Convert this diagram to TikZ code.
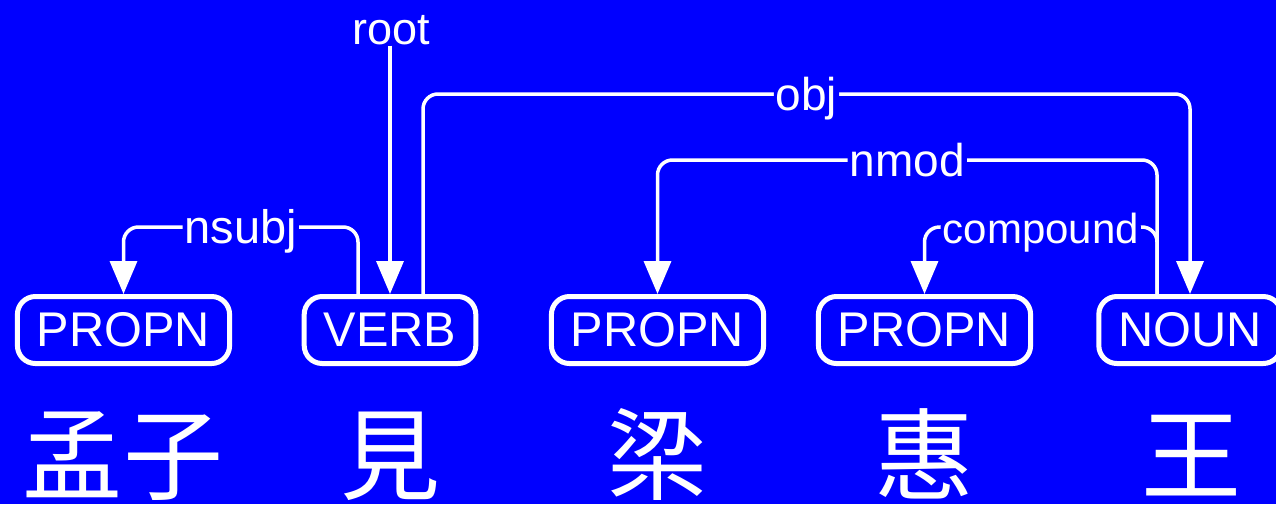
\documentclass[tikz,border=0pt]{standalone}
\usepackage{fontspec}
\setmainfont{Liberation Sans}
\newfontfamily\cjk{Noto Sans CJK TC}
\usetikzlibrary{arrows.meta,calc}
\definecolor{bg}{RGB}{0,0,255}
\begin{document}
\begin{tikzpicture}[x=1pt,y=-1pt,
  posbox/.style={draw=white, line width=5pt, rounded corners=18pt, text=white,
    font=\fontsize{48.7}{58}\selectfont, inner xsep=19.5pt, inner ysep=0pt, minimum height=67pt},
  lab/.style={text=white, fill=bg, font=\fontsize{#1}{50}\selectfont, inner xsep=2pt, inner ysep=1pt},
  onlab/.style={lab=#1, anchor=base, yshift=-16pt},
  word/.style={text=white, font=\cjk\fontsize{100}{110}\selectfont, anchor=base},
  depline/.style={draw=white, line width=3.5pt, rounded corners=15pt},
  deparrow/.style={depline, -{Triangle[width=27pt,length=33pt]}}]
\fill[bg] (0,0) rectangle (1276,504);
\useasboundingbox (0,0) rectangle (1276,504);
% levels
\coordinate (L0) at (0,94);
\coordinate (L1) at (0,227);
\coordinate (L2) at (0,160);
% POS boxes
\node[posbox] (n1) at (123.5,330) {PROPN};
\node[posbox] (n2) at (390,330) {VERB};
\node[posbox] (n3) at (657.5,330) {PROPN};
\node[posbox] (n4) at (924.5,330) {PROPN};
\node[posbox] (n5) at (1190,330) {NOUN};
% words
\node[word] (w1) at (123,492) {孟子};
\node[word] (w2) at (390,492) {見};
\node[word] (w3) at (657,492) {梁};
\node[word] (w4) at (924,492) {惠};
\node[word] (w5) at (1191,492) {王};
% attachment points
\coordinate (vns) at ($(n2.north)+(-32,0)$);
\coordinate (vobj) at ($(n2.north)+(33,0)$);
\coordinate (nout) at ($(n5.north)+(-33,0)$);
\coordinate (nin) at (n5.north);
% root
\node[lab=45, anchor=base] (rootl) at (391,44) {root};
\draw[deparrow] (rootl.south -| n2.north) -- (n2.north);
% arcs
\draw[deparrow] (vns) |- node[onlab=47, pos=0.75] {nsubj} (n1.north |- L1) -- (n1.north);
\draw[deparrow] (vobj) |- node[onlab=46, pos=0.75] {obj} (nin |- L0) -- (nin);
\draw[deparrow] (nout) |- node[onlab=46, pos=0.75] {nmod} (n3.north |- L2) -- (n3.north);
\draw[deparrow] (nout) |- node[onlab=42, pos=0.75] {compound} (n4.north |- L1) -- (n4.north);
\end{tikzpicture}
\end{document}
